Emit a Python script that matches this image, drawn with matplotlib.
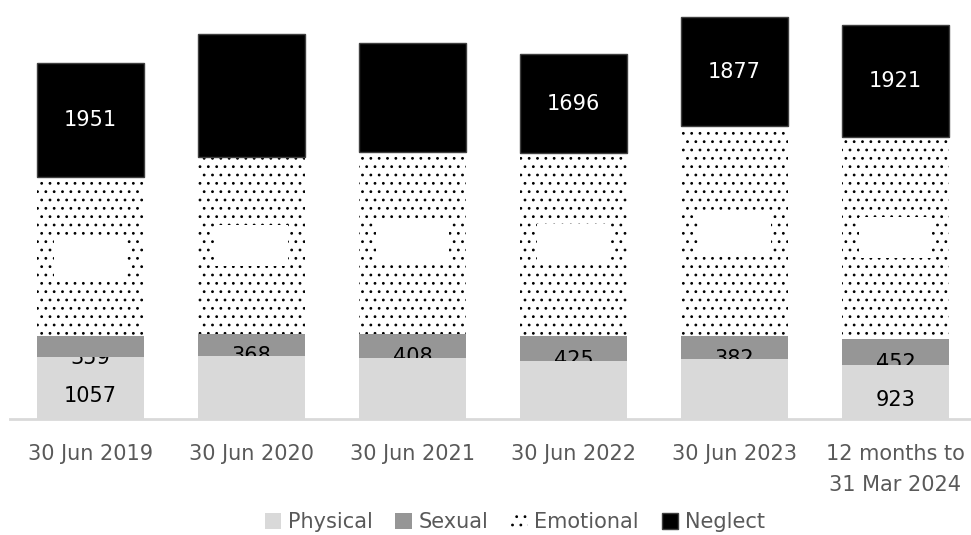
import matplotlib
matplotlib.use("Agg")
import matplotlib.pyplot as plt
import numpy as np

categories = ["30 Jun 2019", "30 Jun 2020", "30 Jun 2021", "30 Jun 2022",
              "30 Jun 2023", "12 months to\n31 Mar 2024"]
physical = [1057, 1080, 1040, 990, 1030, 923]
sexual = [359, 368, 408, 425, 382, 452]
emotional = [2720, 3040, 3110, 3130, 3590, 3450]
neglect = [1951, 2100, 1880, 1696, 1877, 1921]

show_physical_label = [True, False, False, False, False, True]
show_neglect_label = [True, False, False, True, True, True]
sexual_label_clip = ["Physical", "Sexual", "Sexual", "Sexual", "Sexual", "Sexual"]

plt.rcParams['font.family'] = ['DejaVu Sans']
plt.rcParams['hatch.linewidth'] = 0.8
fig = plt.figure(figsize=(9.71, 5.35), dpi=100)
ax = fig.add_axes([10/971, 116/535, 961/971, 419/535])

x = np.arange(len(categories))
w = 0.665
phys = np.array(physical)
sex = np.array(sexual)
emo = np.array(emotional)
neg = np.array(neglect)

b1 = ax.bar(x, phys, w, color="#d9d9d9", zorder=2, label="Physical")
b2 = ax.bar(x, sex, w, bottom=phys, color="#969696", zorder=2, label="Sexual")
b3 = ax.bar(x, emo, w, bottom=phys + sex, color="white", edgecolor="black",
            linewidth=0, hatch="..", zorder=2, label="Emotional")
b4 = ax.bar(x, neg, w, bottom=phys + sex + emo, color="black",
            edgecolor="#404040", linewidth=1, zorder=2, label="Neglect")

fs = 15
for i in range(len(x)):
    if show_physical_label[i]:
        ax.annotate(str(physical[i]), (x[i], phys[i] / 2), xytext=(0, -6),
                    textcoords="offset points", ha="center", va="center",
                    fontsize=fs, color="black", zorder=5)
    t = ax.annotate(str(sexual[i]), (x[i], phys[i] + sex[i] / 2), xytext=(0, -8),
                    textcoords="offset points", ha="center", va="center",
                    fontsize=fs, color="black", zorder=5)
    clip_patch = b1.patches[i] if sexual_label_clip[i] == "Physical" else b2.patches[i]
    t.set_clip_path(clip_patch)
    ax.annotate(str(emotional[i]), (x[i], phys[i] + sex[i] + emo[i] / 2),
                ha="center", va="center", fontsize=fs, color="white", zorder=5,
                bbox=dict(boxstyle="square,pad=0.5", fc="white", ec="none"))
    if show_neglect_label[i]:
        ax.annotate(str(neglect[i]), (x[i], phys[i] + sex[i] + emo[i] + neg[i] / 2),
                    ha="center", va="center", fontsize=fs, color="white", zorder=5)

ax.set_xlim(-0.5, 5.469)
ax.set_ylim(0, 7165)
for s in ["top", "right", "left"]:
    ax.spines[s].set_visible(False)
ax.spines["bottom"].set_color("#d9d9d9")
ax.spines["bottom"].set_linewidth(2)
ax.spines["bottom"].set_zorder(3)
ax.set_yticks([])
ax.set_xticks(x)
ax.set_xticklabels(categories, fontsize=fs, color="#595959", linespacing=1.7)
ax.tick_params(axis="x", length=0, pad=18)

leg = fig.legend(handles=[b1, b2, b3, b4], loc="center", bbox_to_anchor=(0.53, 13/535),
                 ncol=4, frameon=False, fontsize=fs, handlelength=0.8, handleheight=0.8,
                 handletextpad=0.3, columnspacing=1.1, labelcolor="#595959")

fig.savefig("out.png", dpi=100)
